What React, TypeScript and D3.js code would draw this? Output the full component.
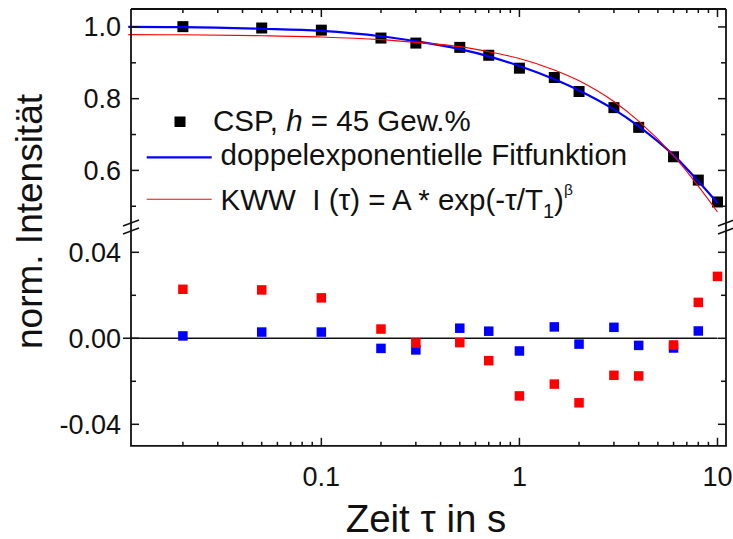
import React from "react";
import * as d3 from "d3";

// ---------- data ----------
const tau = [0.02, 0.05, 0.1, 0.2, 0.3, 0.5, 0.7, 1, 1.5, 2, 3, 4, 6, 8, 10];
const intensity = [1.0008, 0.997, 0.991, 0.969, 0.955, 0.943, 0.921, 0.885, 0.859, 0.82, 0.775, 0.72, 0.638, 0.573, 0.512];
const residDoubleExp: (number | null)[] = [0.0011, 0.0029, 0.0029, -0.0047, -0.0054, 0.0047, 0.0033, -0.0059, 0.0053, -0.0027, 0.0051, -0.0033, -0.0045, 0.0034, null];
const residKWW = [0.0228, 0.0225, 0.0188, 0.0043, -0.0022, -0.002, -0.0104, -0.0268, -0.0213, -0.03, -0.0172, -0.0175, -0.0031, 0.0167, 0.0288];
const fitTau = [0.0106, 0.02, 0.05, 0.1, 0.2, 0.3, 0.5, 0.7, 1, 1.5, 2, 3, 4, 6, 8, 10];
const fitDoubleExp = [1.0, 0.9995, 0.995, 0.989, 0.974, 0.96, 0.938, 0.918, 0.891, 0.854, 0.823, 0.77, 0.723, 0.6425, 0.5696, 0.509];
const fitKWW = [0.9785, 0.978, 0.9755, 0.972, 0.9645, 0.957, 0.945, 0.931, 0.912, 0.88, 0.85, 0.792, 0.7375, 0.641, 0.556, 0.484];

const xTickValues = [0.1, 1, 10];
const xTickLabels = ["0.1", "1", "10"];
const xMinorValues = [0.02, 0.03, 0.04, 0.05, 0.06, 0.07, 0.08, 0.09, 0.2, 0.3, 0.4, 0.5, 0.6, 0.7, 0.8, 0.9, 2, 3, 4, 5, 6, 7, 8, 9];
const upperTicks = [1.0, 0.8, 0.6];
const upperTickLabels = ["1.0", "0.8", "0.6"];
const upperMinor = [0.9, 0.7, 0.5];
const lowerTicks = [0.04, 0, -0.04];
const lowerTickLabels = ["0.04", "0.00", "-0.04"];
const lowerMinor = [0.02, -0.02];

const FONT = "'Liberation Sans', Arial, Helvetica, sans-serif";

export default function App() {
  const L = 131, R = 726, T = 9, B = 445.8;
  const x = d3.scaleLog().domain([0.01094, 11.04]).range([L, R]);
  const yU = d3.scaleLinear().domain([0.45, 1.05]).range([224.2, T]);
  const yL = d3.scaleLinear().domain([-0.05, 0.05]).range([B, 230.8]);

  const lineGen = (vals: number[]) =>
    d3.line<number>()
      .x((_, i) => x(fitTau[i]))
      .y((v) => yU(v))
      .curve(d3.curveMonotoneX)(vals) as string;

  const majLen = 8, minLen = 5;
  const ink = "#111";
  const axisW = 1.8;

  const leftRightTicks = (vals: number[], scale: (v: number) => number, len: number, key: string) =>
    vals.map((v, i) => (
      <g key={key + i}>
        <line x1={L} x2={L + len} y1={scale(v)} y2={scale(v)} stroke={ink} strokeWidth={1.5} />
        <line x1={R} x2={R - len} y1={scale(v)} y2={scale(v)} stroke={ink} strokeWidth={1.5} />
      </g>
    ));

  const sq = 11, sqR = 9.5;
  const legFont = 29.5;

  return (
    <svg width={733} height={539} style={{ position: "absolute", left: 0, top: 0, background: "#fff" }} fontFamily={FONT}>
      <rect x={0} y={0} width={733} height={539} fill="#fff" />

      {/* upper data squares */}
      {tau.map((t, i) => (
        <rect key={"d" + i} x={x(t) - sq / 2} y={yU(intensity[i]) - sq / 2} width={sq} height={sq} fill="#000" />
      ))}
      {/* fit curves */}
      <path d={lineGen(fitDoubleExp)} fill="none" stroke="#0000ff" strokeWidth={2.2} />
      <path d={lineGen(fitKWW)} fill="none" stroke="#ff0000" strokeWidth={1.1} />

      {/* zero line */}
      <line x1={123} x2={x(10)} y1={yL(0)} y2={yL(0)} stroke={ink} strokeWidth={1.6} />

      {/* residuals */}
      {tau.map((t, i) =>
        residDoubleExp[i] === null ? null : (
          <rect key={"b" + i} x={x(t) - sqR / 2} y={yL(residDoubleExp[i] as number) - sqR / 2} width={sqR} height={sqR} fill="#0000ff" />
        )
      )}
      {tau.map((t, i) => (
        <rect key={"r" + i} x={x(t) - sqR / 2} y={yL(residKWW[i]) - sqR / 2} width={sqR} height={sqR} fill="#ff0000" />
      ))}

      {/* frame */}
      <line x1={L} x2={L} y1={T} y2={B} stroke={ink} strokeWidth={axisW} />
      <line x1={R} x2={R} y1={T} y2={B} stroke={ink} strokeWidth={axisW} />
      <line x1={L} x2={R} y1={T} y2={T} stroke={ink} strokeWidth={axisW} />
      <line x1={L - 0.9} x2={R + 0.9} y1={B} y2={B} stroke={ink} strokeWidth={axisW} />

      {/* break marks */}
      {[L, R].map((ax, k) => (
        <g key={"brk" + k}>
          <line x1={ax - 8} x2={ax + 8} y1={226} y2={220} stroke={ink} strokeWidth={1.6} />
          <line x1={ax - 8} x2={ax + 8} y1={234} y2={228} stroke={ink} strokeWidth={1.6} />
        </g>
      ))}

      {/* y ticks */}
      {leftRightTicks(upperTicks, yU, majLen, "um")}
      {leftRightTicks(upperMinor, yU, minLen, "un")}
      {leftRightTicks(lowerTicks, yL, majLen, "lm")}
      {leftRightTicks(lowerMinor, yL, minLen, "ln")}

      {/* x ticks */}
      {xTickValues.map((v, i) => (
        <g key={"xm" + i}>
          <line x1={x(v)} x2={x(v)} y1={B} y2={B - majLen} stroke={ink} strokeWidth={1.5} />
          <line x1={x(v)} x2={x(v)} y1={T} y2={T + majLen} stroke={ink} strokeWidth={1.5} />
        </g>
      ))}
      {xMinorValues.map((v, i) => (
        <g key={"xn" + i}>
          <line x1={x(v)} x2={x(v)} y1={B} y2={B - 4} stroke={ink} strokeWidth={1.5} />
          <line x1={x(v)} x2={x(v)} y1={T} y2={T + 4} stroke={ink} strokeWidth={1.5} />
        </g>
      ))}

      {/* tick labels */}
      {upperTicks.map((v, i) => (
        <text key={"ul" + i} x={121} y={yU(v) + 9.5} textAnchor="end" fontSize={27} fill={ink}>{upperTickLabels[i]}</text>
      ))}
      {lowerTicks.map((v, i) => (
        <text key={"ll" + i} x={121} y={yL(v) + 9.5} textAnchor="end" fontSize={27} fill={ink}>{lowerTickLabels[i]}</text>
      ))}
      {xTickValues.map((v, i) => (
        <text key={"xl" + i} x={x(v)} y={486} textAnchor="middle" fontSize={27} fill={ink}>{xTickLabels[i]}</text>
      ))}

      {/* axis titles */}
      <text x={426} y={532} textAnchor="middle" fontSize={38.5} fill={ink}>Zeit τ in s</text>
      <text transform="translate(42,221.5) rotate(-90)" textAnchor="middle" fontSize={37} fill={ink}>norm. Intensität</text>

      {/* legend */}
      <rect x={174.5} y={116.5} width={11} height={10.5} fill="#000" />
      <text x={213} y={131} fontSize={legFont} fill={ink}>
        CSP, <tspan fontStyle="italic">h</tspan> = 45 Gew.%
      </text>
      <line x1={146.7} x2={211.7} y1={157.3} y2={157.3} stroke="#0000ff" strokeWidth={2.2} />
      <text x={220.5} y={165} fontSize={legFont} fill={ink}>doppelexponentielle Fitfunktion</text>
      <line x1={146.7} x2={211.7} y1={199.3} y2={199.3} stroke="#ff0000" strokeWidth={1.1} />
      <text x={220.5} y={210} fontSize={legFont} fill={ink}>
        KWW{"\u00a0\u00a0"}I (τ) = A * exp(-τ/T
        <tspan fontSize={20} dy={8}>1</tspan>
        <tspan dy={-8}>)</tspan>
        <tspan fontSize={15.5} dy={-15}>β</tspan>
      </text>
    </svg>
  );
}
